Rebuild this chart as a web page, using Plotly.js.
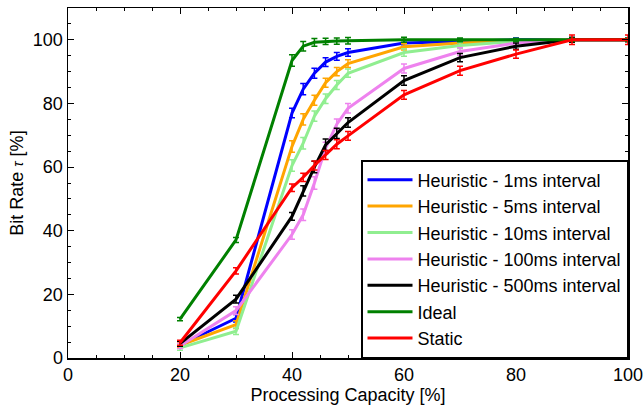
<!DOCTYPE html>
<html>
<head>
<meta charset="utf-8">
<script src="https://cdn.plot.ly/plotly-3.0.1.min.js"></script>
<style>html,body{margin:0;padding:0;background:#fff;}#chart{width:643px;height:409px;}</style>
</head>
<body>
<div id="chart"></div>
<script>
const capacity = [20, 30, 40, 42, 44, 46, 48, 50, 60, 70, 80, 90, 100];

const heur1ms   = [4.0, 12.5, 77.0, 84.5, 89.5, 93.0, 94.8, 96.0, 99.0, 99.5, 100, 100, 100];
const heur5ms   = [4.0, 10.5, 66.5, 75.0, 81.0, 86.5, 90.0, 92.5, 97.8, 99.0, 99.7, 100, 100];
const heur10ms  = [3.2, 8.4, 60.5, 67.5, 76.0, 81.5, 85.8, 89.5, 96.0, 98.2, 99.5, 100, 100];
const heur100ms = [3.8, 14.9, 38.8, 45.0, 55.0, 66.0, 73.5, 78.5, 91.0, 96.3, 99.0, 100, 100];
const heur500ms = [4.5, 18.5, 44.5, 52.5, 60.0, 67.0, 70.6, 74.0, 87.2, 94.4, 98.0, 100, 100];
const ideal     = [12.2, 37.1, 93.5, 98.0, 99.2, 99.5, 99.6, 99.7, 100, 100, 100, 100, 100];
const staticBR  = [4.8, 27.4, 53.5, 56.8, 60.5, 63.8, 67.2, 69.8, 82.7, 90.3, 95.5, 100, 100];

const err1ms   = [0.8, 1.2, 1.5, 1.8, 1.6, 1.4, 1.2, 1.2, 1.0, 0.8, 0.6, 0.5, 0.5];
const err5ms   = [0.8, 1.2, 1.8, 1.8, 1.6, 1.4, 1.3, 1.2, 1.0, 0.8, 0.6, 0.5, 0.5];
const err10ms  = [0.8, 1.0, 1.8, 1.8, 1.6, 1.5, 1.4, 1.3, 1.2, 0.9, 0.7, 0.5, 0.5];
const err100ms = [0.8, 1.2, 1.5, 1.8, 2.0, 1.8, 1.6, 1.5, 1.4, 1.2, 0.9, 0.6, 0.5];
const err500ms = [0.8, 1.2, 1.2, 1.6, 1.8, 1.8, 1.6, 1.5, 1.5, 1.3, 1.0, 0.8, 0.5];
const errIdeal = [0.5, 0.8, 1.8, 1.5, 1.2, 1.0, 1.0, 1.0, 0.8, 0.6, 0.5, 0.5, 0.5];
const errStatic= [0.8, 1.0, 1.2, 1.3, 1.4, 1.4, 1.4, 1.4, 1.4, 1.4, 1.3, 1.5, 1.5];

const names  = ['Heuristic - 1ms interval', 'Heuristic - 5ms interval', 'Heuristic - 10ms interval',
                'Heuristic - 100ms interval', 'Heuristic - 500ms interval', 'Ideal', 'Static'];
const colors = ['#0000ff', '#ffa500', '#90ee90', '#ee82ee', '#000000', '#008000', '#ff0000'];
const series = [heur1ms, heur5ms, heur10ms, heur100ms, heur500ms, ideal, staticBR];
const errors = [err1ms, err5ms, err10ms, err100ms, err500ms, errIdeal, errStatic];

const traces = series.map((ys, i) => ({
  x: capacity,
  y: ys,
  name: names[i],
  mode: 'lines',
  type: 'scatter',
  line: {color: colors[i], width: 3},
  error_y: {type: 'data', array: errors[i], visible: true, color: colors[i], thickness: 1.5, width: 3}
}));

const fam = '"Liberation Sans", Arial, sans-serif';

const layout = {
  width: 643, height: 409,
  margin: {l: 68, r: 15, t: 8, b: 51},
  paper_bgcolor: '#fff', plot_bgcolor: '#fff',
  font: {family: fam, size: 15, color: '#000'},
  showlegend: true,
  legend: {
    x: 1, y: 0, xanchor: 'right', yanchor: 'bottom',
    bordercolor: '#000', borderwidth: 1.5, bgcolor: '#fff',
    font: {family: fam, size: 18, color: '#000'},
    itemwidth: 45, traceorder: 'normal'
  },
  xaxis: {
    range: [0, 100], dtick: 20, tick0: 0,
    ticks: 'inside', ticklen: 6, tickwidth: 1, tickcolor: '#000',
    minor: {dtick: 5, ticks: 'inside', ticklen: 3, tickcolor: '#000', showgrid: false},
    showline: true, linecolor: '#000', linewidth: 1.5, mirror: 'allticks',
    showgrid: false, zeroline: false, ticklabeloverflow: 'allow',
    tickfont: {family: fam, size: 18, color: '#000'},
    title: {text: 'Processing Capacity [%]', font: {family: fam, size: 18, color: '#000'}, standoff: 4}
  },
  yaxis: {
    range: [0, 110], dtick: 20, tick0: 0,
    ticks: 'inside', ticklen: 6, tickwidth: 1, tickcolor: '#000',
    minor: {dtick: 5, ticks: 'inside', ticklen: 3, tickcolor: '#000', showgrid: false},
    showline: true, linecolor: '#000', linewidth: 1.5, mirror: 'allticks',
    showgrid: false, zeroline: false,
    tickfont: {family: fam, size: 18, color: '#000'},
    title: {text: 'Bit Rate <i><span style="font-size:14px">τ</span></i> [%]', font: {family: fam, size: 18, color: '#000'}, standoff: 4}
  }
};

Plotly.newPlot('chart', traces, layout, {displayModeBar: false, staticPlot: true});
</script>
</body>
</html>
